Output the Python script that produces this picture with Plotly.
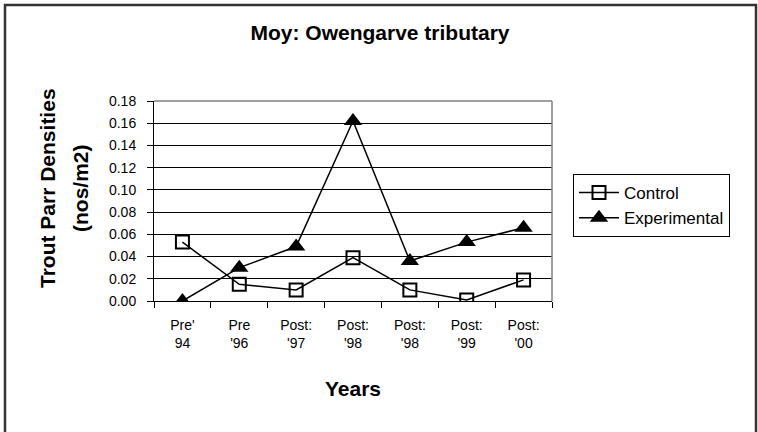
import plotly.graph_objects as go

categories = ["Pre'<br>94", "Pre<br>'96", "Post:<br>'97", "Post:<br>'98", "Post:<br>'98", "Post:<br>'99", "Post:<br>'00"]
control = [0.053, 0.015, 0.010, 0.039, 0.010, 0.001, 0.019]
experimental = [0.000, 0.030, 0.049, 0.162, 0.036, 0.053, 0.066]
y_ticks = [0.00, 0.02, 0.04, 0.06, 0.08, 0.10, 0.12, 0.14, 0.16, 0.18]

xpos = list(range(len(categories)))
FONT = "Liberation Sans, Arial, sans-serif"

fig = go.Figure()
fig.add_trace(go.Scatter(
    x=xpos, y=control, name="Control", mode="lines+markers",
    line=dict(color="black", width=1.5),
    marker=dict(symbol="square-open", size=13, color="black", line=dict(width=2, color="black")),
))
fig.add_trace(go.Scatter(
    x=xpos, y=experimental, name="Experimental", mode="lines+markers",
    line=dict(color="black", width=1.5),
    marker=dict(symbol="triangle-up", size=16, color="black"),
))

W, H = 758, 432
L, R, T, B = 154, 552, 101, 301

def px_x(p):
    return (p - L) / (R - L)

def px_y(p):
    return (B - p) / (B - T)

fig.update_layout(
    width=W, height=H, autosize=False,
    margin=dict(l=L, r=W - R, t=T, b=H - B, autoexpand=False),
    paper_bgcolor="white", plot_bgcolor="white",
    font=dict(family=FONT, color="black", size=14),
    title=dict(text="<b>Moy: Owengarve tributary</b>", x=380 / W, xref="container", xanchor="center",
               y=1 - 33 / H, yref="container", yanchor="middle",
               font=dict(size=21, family=FONT, color="black")),
    showlegend=True,
    legend=dict(x=px_x(573), y=px_y(174), xanchor="left", yanchor="top",
                bordercolor="black", borderwidth=1, bgcolor="white",
                font=dict(size=17, family=FONT, color="black"),
                itemwidth=40, tracegroupgap=0),
    xaxis=dict(
        range=[-0.5, 6.5], tickvals=xpos, ticktext=categories,
        showgrid=False, zeroline=False, showline=True, linecolor="black", linewidth=1,
        ticks="", tickfont=dict(size=14, family=FONT, color="black"),
        ticklabelstandoff=11,
        minor=dict(tick0=-0.5, dtick=1, ticks="outside", ticklen=6, tickcolor="black", showgrid=False),
        title=dict(text="<b>Years</b>", font=dict(size=21, family=FONT, color="black"), standoff=31),
    ),
    yaxis=dict(
        range=[0, 0.18], tickvals=y_ticks, tickformat=".2f",
        showgrid=True, gridcolor="black", gridwidth=1,
        zeroline=False, showline=True, linecolor="black", linewidth=1,
        ticks="outside", ticklen=6, tickcolor="black",
        ticklabelstandoff=8,
        tickfont=dict(size=14, family=FONT, color="black"),
    ),
    shapes=[
        dict(type="line", xref="paper", yref="paper", x0=0, x1=1, y0=1, y1=1,
             line=dict(color="#808080", width=1.5), layer="above"),
        dict(type="line", xref="paper", yref="paper", x0=1, x1=1, y0=0, y1=1,
             line=dict(color="#808080", width=1.5), layer="above"),
        dict(type="rect", xref="paper", yref="paper",
             x0=px_x(5), x1=px_x(756), y0=px_y(5), y1=px_y(445),
             line=dict(color="#333333", width=2.5), fillcolor="rgba(0,0,0,0)", layer="above"),
    ],
    annotations=[
        dict(text="<b>Trout Parr Densities</b>", xref="paper", yref="paper",
             x=px_x(47), y=px_y(188), textangle=-90, showarrow=False,
             xanchor="center", yanchor="middle",
             font=dict(size=21, family=FONT, color="black")),
        dict(text="<b>(nos/m2)</b>", xref="paper", yref="paper",
             x=px_x(80), y=px_y(188), textangle=-90, showarrow=False,
             xanchor="center", yanchor="middle",
             font=dict(size=21, family=FONT, color="black")),
    ],
)

fig.write_html("out.html", config={"displayModeBar": False},
               post_script="document.body.style.margin='0';document.body.style.overflow='hidden';")
